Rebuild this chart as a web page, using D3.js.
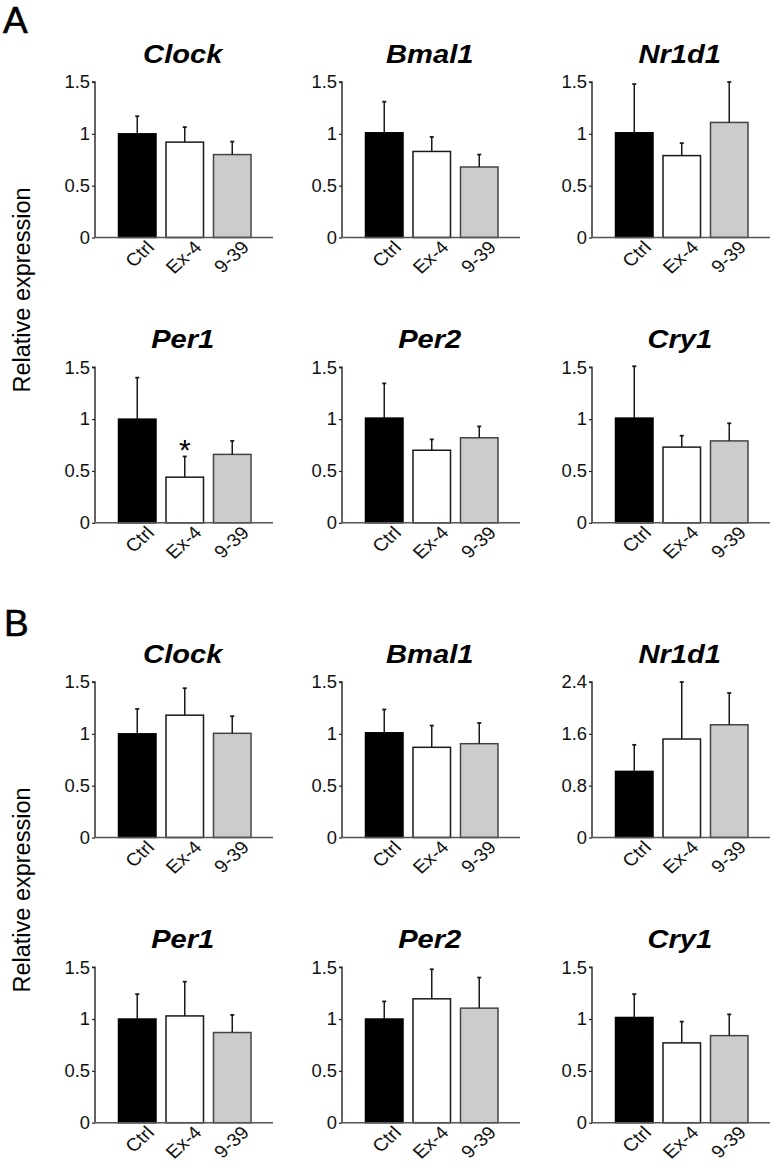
<!DOCTYPE html>
<html>
<head>
<meta charset="utf-8">
<script src="https://cdn.jsdelivr.net/npm/d3@7"></script>
<style>
  html, body { margin: 0; padding: 0; background: #fff; }
  svg { display: block; font-family: "Liberation Sans", Arial, sans-serif; }
</style>
</head>
<body>
<svg id="chart" width="776" height="1170"></svg>
<script>
// ---- data ----
const groups = ["Ctrl", "Ex-4", "9-39"];
const genes = ["Clock", "Bmal1", "Nr1d1", "Per1", "Per2", "Cry1"];

const meanA = [
  [1.00, 0.92, 0.80],
  [1.01, 0.83, 0.68],
  [1.01, 0.79, 1.11],
  [1.00, 0.44, 0.66],
  [1.01, 0.70, 0.82],
  [1.01, 0.73, 0.79]
];
const errA = [
  [0.17, 0.145, 0.125],
  [0.30, 0.14, 0.12],
  [0.47, 0.12, 0.39],
  [0.40, 0.20, 0.13],
  [0.335, 0.105, 0.11],
  [0.50, 0.11, 0.17]
];
const meanB = [
  [1.00, 1.18, 1.005],
  [1.01, 0.87, 0.905],
  [1.02, 1.52, 1.74],
  [1.00, 1.03, 0.87],
  [1.00, 1.195, 1.105],
  [1.015, 0.77, 0.84]
];
const errB = [
  [0.24, 0.26, 0.165],
  [0.225, 0.21, 0.20],
  [0.41, 0.88, 0.49],
  [0.24, 0.33, 0.17],
  [0.17, 0.285, 0.295],
  [0.225, 0.205, 0.205]
];
// significance marks: [panel, gene index, group index]
const stars = [["A", 3, 1]];

const ticksStd = [0, 0.5, 1, 1.5];
const tickLabelsStd = ["0", "0.5", "1", "1.5"];
const ticksNr1d1B = [0, 0.8, 1.6, 2.4];
const tickLabelsNr1d1B = ["0", "0.8", "1.6", "2.4"];

const panelLetters = ["A", "B"];
const yTitle = "Relative expression";

// ---- layout ----
const colX = [95, 342, 592];
const rowTop = [82, 367.3, 682, 967.2];
const plotH = 155.5;
const barOffset = 23.5, barW = 37.5, barStep = 47.5;
const axisLen = 178;
const fills = ["#000000", "#ffffff", "#cccccc"];
const strokes = ["#000000", "#1a1a1a", "#444444"];

const svg = d3.select("#chart");

function drawPanel(panel, gi, rowIdx, means, errs, ticks, tickLabels, yMax) {
  const ax = colX[gi % 3];
  const top = rowTop[rowIdx];
  const zero = top + plotH;
  const g = svg.append("g");

  const y = d3.scaleLinear().domain([0, yMax]).range([zero, top]);
  const x = d3.scaleBand().domain(groups)
    .range([ax + barOffset, ax + barOffset + barStep * 2 + barW])
    .paddingInner((barStep - barW) / barStep).paddingOuter(0);

  // bars
  g.selectAll("rect.bar").data(groups).enter().append("rect")
    .attr("x", d => x(d))
    .attr("y", (d, i) => y(means[i]))
    .attr("width", x.bandwidth())
    .attr("height", (d, i) => zero - y(means[i]))
    .attr("fill", (d, i) => fills[i])
    .attr("stroke", (d, i) => strokes[i])
    .attr("stroke-width", 1.5);

  // error bars (upper only)
  g.selectAll("line.err").data(groups).enter().append("line")
    .attr("x1", d => x(d) + x.bandwidth() / 2)
    .attr("x2", d => x(d) + x.bandwidth() / 2)
    .attr("y1", (d, i) => y(means[i]))
    .attr("y2", (d, i) => y(means[i] + errs[i]))
    .attr("stroke", "#1a1a1a").attr("stroke-width", 1.5);
  g.selectAll("line.cap").data(groups).enter().append("line")
    .attr("x1", d => x(d) + x.bandwidth() / 2 - 2)
    .attr("x2", d => x(d) + x.bandwidth() / 2 + 2)
    .attr("y1", (d, i) => y(means[i] + errs[i]))
    .attr("y2", (d, i) => y(means[i] + errs[i]))
    .attr("stroke", "#1a1a1a").attr("stroke-width", 1.8);

  // y axis
  const yAxis = d3.axisLeft(y).tickValues(ticks).tickSize(3).tickFormat(() => "");
  const ya = g.append("g").attr("transform", `translate(${ax},0)`).call(yAxis);
  ya.select(".domain").attr("stroke", "#222").attr("stroke-width", 1.4)
    .attr("d", `M-3,${top}H0V${zero}`);
  ya.selectAll(".tick line").attr("stroke", "#222").attr("stroke-width", 1.2);
  // tick labels
  g.selectAll("g.tl").data(ticks).enter().append("g")
    .attr("transform", d => `translate(${ax - 5},${y(d)}) scale(1.05,1)`)
    .append("text")
    .attr("text-anchor", "end").attr("dy", "0.36em")
    .attr("font-size", 17.5).attr("fill", "#111")
    .text((d, i) => tickLabels[i]);

  // x axis line
  g.append("line")
    .attr("x1", ax).attr("x2", ax + axisLen)
    .attr("y1", zero).attr("y2", zero)
    .attr("stroke", "#555").attr("stroke-width", 1.6);

  // x labels
  g.selectAll("g.xl").data(groups).enter().append("g")
    .attr("transform", d => `translate(${x(d) + x.bandwidth() / 2 + 18},${zero + 11}) scale(1.1,1) rotate(-45)`)
    .append("text")
    .attr("text-anchor", "end")
    .attr("font-size", 18).attr("fill", "#111")
    .text(d => d);

  // title
  const cx = ax + barOffset + (barStep * 2 + barW) / 2;
  g.append("g")
    .attr("transform", `translate(${cx - 2},${top - 19}) scale(1.12,1)`)
    .append("text")
    .attr("text-anchor", "middle")
    .attr("font-size", 26).attr("font-weight", "bold").attr("font-style", "italic")
    .attr("fill", "#000")
    .text(genes[gi]);

  // stars
  stars.filter(s => s[0] === panel && s[1] === gi).forEach(s => {
    const gx = groups[s[2]];
    g.append("text")
      .attr("x", x(gx) + x.bandwidth() / 2)
      .attr("y", y(means[s[2]] + errs[s[2]]) - 9 + 0.43 * 30)
      .attr("text-anchor", "middle")
      .attr("font-size", 30).attr("fill", "#000")
      .text("*");
  });
}

genes.forEach((gene, gi) => {
  const r = Math.floor(gi / 3);
  drawPanel("A", gi, r, meanA[gi], errA[gi], ticksStd, tickLabelsStd, 1.5);
  if (gene === "Nr1d1") {
    drawPanel("B", gi, 2 + r, meanB[gi], errB[gi], ticksNr1d1B, tickLabelsNr1d1B, 2.4);
  } else {
    drawPanel("B", gi, 2 + r, meanB[gi], errB[gi], ticksStd, tickLabelsStd, 1.5);
  }
});

// panel letters
svg.append("text").attr("x", 3).attr("y", 33).attr("font-size", 37).attr("fill", "#000").attr("stroke", "#000").attr("stroke-width", 0.6).text(panelLetters[0]);
svg.append("text").attr("x", 4).attr("y", 636).attr("font-size", 37).attr("fill", "#000").attr("stroke", "#000").attr("stroke-width", 0.6).text(panelLetters[1]);

// y titles
[290, 890].forEach(cy => {
  svg.append("text")
    .attr("transform", `translate(29.5,${cy}) rotate(-90)`)
    .attr("text-anchor", "middle")
    .attr("font-size", 23.5).attr("fill", "#000")
    .text(yTitle);
});
</script>
</body>
</html>
